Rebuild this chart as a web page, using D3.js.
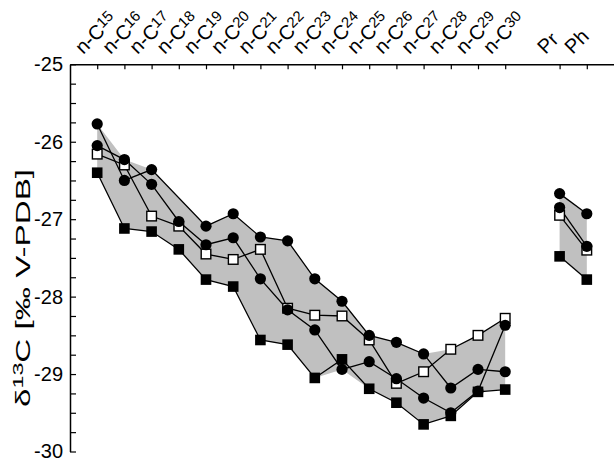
<!DOCTYPE html>
<html>
<head>
<meta charset="utf-8">
<script src="https://cdn.jsdelivr.net/npm/d3@7"></script>
<style>
    body { margin: 0; background: #fff; }
    svg { display: block; font-family: Arial, "Liberation Sans", sans-serif; }
</style>
</head>
<body>
<svg width="614" height="462"></svg>
<script>
// categories on the x axis ("gap" is the empty slot before Pr)
const categories = ["C15", "C16", "C17", "C18", "C19", "C20", "C21", "C22", "C23",
    "C24", "C25", "C26", "C27", "C28", "C29", "C30", "gap", "Pr", "Ph"];
const alkanes = categories.slice(0, 16);
const isoprenoids = ["Pr", "Ph"];

// d13C values, n-alkanes C15..C30 (null = not measured)
const circleA = [-25.77, -26.50, -26.36, null, -27.09, -26.93, -27.23, -27.28,
    -27.77, -28.06, -28.50, -28.59, -28.74, -29.18, -28.94, -28.97];
const circleB = [-26.05, -26.23, -26.55, -27.03, -27.33, -27.24, -27.77, -28.17,
    -28.43, -28.94, -28.84, -29.06, -29.31, -29.50, -29.22, -28.37];
const openSq = [-26.16, -26.30, -26.96, -27.09, -27.45, -27.52, -27.39, -28.15,
    -28.24, -28.25, -28.56, -29.12, -28.97, -28.68, -28.50, -28.28];
const filledSq = [-26.40, -27.12, -27.16, -27.39, -27.78, -27.87, -28.56, -28.62,
    -29.05, -28.81, -29.19, -29.37, -29.65, -29.54, -29.23, -29.20];

// pristane / phytane
const circleA_iso = [-26.67, -26.93];
const circleB_iso = [-26.85, -27.35];
const openSq_iso = [-26.95, -27.40];
const filledSq_iso = [-27.48, -27.78];

const yTicks = d3.range(-30, -24.99, 0.25);

const svg = d3.select("svg");

const x = d3.scalePoint()
    .domain(categories)
    .range([70, 614])
    .padding(1);

const y = d3.scaleLinear()
    .domain([-30, -25])
    .range([451.5, 64.3]);

function toPoints(keys, vals) {
    return keys.map((k, i) => ({key: k, v: vals[i]})).filter(d => d.v != null);
}

const series = [
    {name: "filledSq", shape: "square", fill: "#000", a: filledSq, b: filledSq_iso},
    {name: "openSq", shape: "square", fill: "#fff", a: openSq, b: openSq_iso},
    {name: "circleB", shape: "circle", fill: "#000", a: circleB, b: circleB_iso},
    {name: "circleA", shape: "circle", fill: "#000", a: circleA, b: circleA_iso}
];

// value of a series at index i, following its line where a point is missing
function lineValue(vals, i) {
    if (vals[i] != null) return vals[i];
    let lo = i - 1, hi = i + 1;
    while (lo >= 0 && vals[lo] == null) lo--;
    while (hi < vals.length && vals[hi] == null) hi++;
    if (lo < 0 || hi >= vals.length) return null;
    return vals[lo] + (vals[hi] - vals[lo]) * (i - lo) / (hi - lo);
}

function envelope(keys, lists) {
    return keys.map((k, i) => {
        const vs = lists.map(l => lineValue(l, i)).filter(v => v != null);
        return {key: k, hi: d3.max(vs), lo: d3.min(vs)};
    });
}

const area = d3.area()
    .x(d => x(d.key))
    .y0(d => y(d.lo))
    .y1(d => y(d.hi));

const band = svg.append("g").attr("class", "band");
band.append("path")
    .datum(envelope(alkanes, series.map(s => s.a)))
    .attr("d", area)
    .attr("fill", "#c0c0c0");
band.append("path")
    .datum(envelope(isoprenoids, series.map(s => s.b)))
    .attr("d", area)
    .attr("fill", "#c0c0c0");

// axes
const yAxis = d3.axisLeft(y)
    .tickValues(yTicks)
    .tickSize(-6)
    .tickSizeOuter(0)
    .tickPadding(7)
    .tickFormat(d => Number.isInteger(d) ? d : "");

const gy = svg.append("g")
    .attr("transform", "translate(70,0)")
    .call(yAxis);
gy.select(".domain").attr("stroke-width", 1.5);
gy.selectAll(".tick line").attr("stroke-width", 1.2);
gy.selectAll(".tick text")
    .attr("font-size", 20)
    .attr("font-family", "Arial, 'Liberation Sans', sans-serif")
    .attr("fill", "#000");

const xAxis = d3.axisTop(x)
    .tickValues(categories.filter(c => c !== "gap"))
    .tickSize(-5)
    .tickSizeOuter(0)
    .tickFormat("");

const gx = svg.append("g")
    .attr("transform", "translate(0,64.3)")
    .call(xAxis);
gx.select(".domain").attr("stroke-width", 1.5);
gx.selectAll(".tick line").attr("stroke-width", 1.2);

// rotated category labels
const labels = svg.append("g").attr("class", "xlabels");
categories.filter(c => c !== "gap").forEach(c => {
    const t = labels.append("text")
        .attr("transform", "translate(" + (x(c) - 14) + ",55) rotate(-45)")
        .attr("font-size", 20)
        .attr("fill", "#000");
    if (c[0] === "C") {
        t.append("tspan").text("n-C");
        t.append("tspan").attr("font-size", 15).attr("dy", -5).text(c.slice(1));
    } else {
        t.text(c);
    }
});

// y title
const title = svg.append("text")
    .attr("transform", "translate(30,288) rotate(-90)")
    .attr("text-anchor", "middle")
    .attr("font-size", 20)
    .attr("textLength", 238)
    .attr("lengthAdjust", "spacingAndGlyphs")
    .attr("fill", "#000");
title.append("tspan").text("δ");
title.append("tspan").attr("font-size", 14).attr("dy", -7).text("13");
title.append("tspan").attr("dy", 7).text("C [‰ V-PDB]");

// series lines
const line = d3.line()
    .x(d => x(d.key))
    .y(d => y(d.v));

const lines = svg.append("g").attr("class", "lines");
series.forEach(s => {
    [toPoints(alkanes, s.a), toPoints(isoprenoids, s.b)].forEach(pts => {
        lines.append("path")
            .datum(pts)
            .attr("d", line)
            .attr("fill", "none")
            .attr("stroke", "#000")
            .attr("stroke-width", 1.3);
    });
});

// markers
const marks = svg.append("g").attr("class", "marks");
series.forEach(s => {
    const pts = toPoints(alkanes, s.a).concat(toPoints(isoprenoids, s.b));
    const g = marks.append("g").attr("class", s.name);
    if (s.shape === "circle") {
        g.selectAll("circle")
            .data(pts)
            .enter().append("circle")
            .attr("cx", d => x(d.key))
            .attr("cy", d => y(d.v))
            .attr("r", 5.6)
            .attr("fill", s.fill);
    } else {
        const size = s.fill === "#fff" ? 9.6 : 10.6;
        g.selectAll("rect")
            .data(pts)
            .enter().append("rect")
            .attr("x", d => x(d.key) - size / 2)
            .attr("y", d => y(d.v) - size / 2)
            .attr("width", size)
            .attr("height", size)
            .attr("fill", s.fill)
            .attr("stroke", "#000")
            .attr("stroke-width", s.fill === "#fff" ? 1.4 : 0);
    }
});
</script>
</body>
</html>
